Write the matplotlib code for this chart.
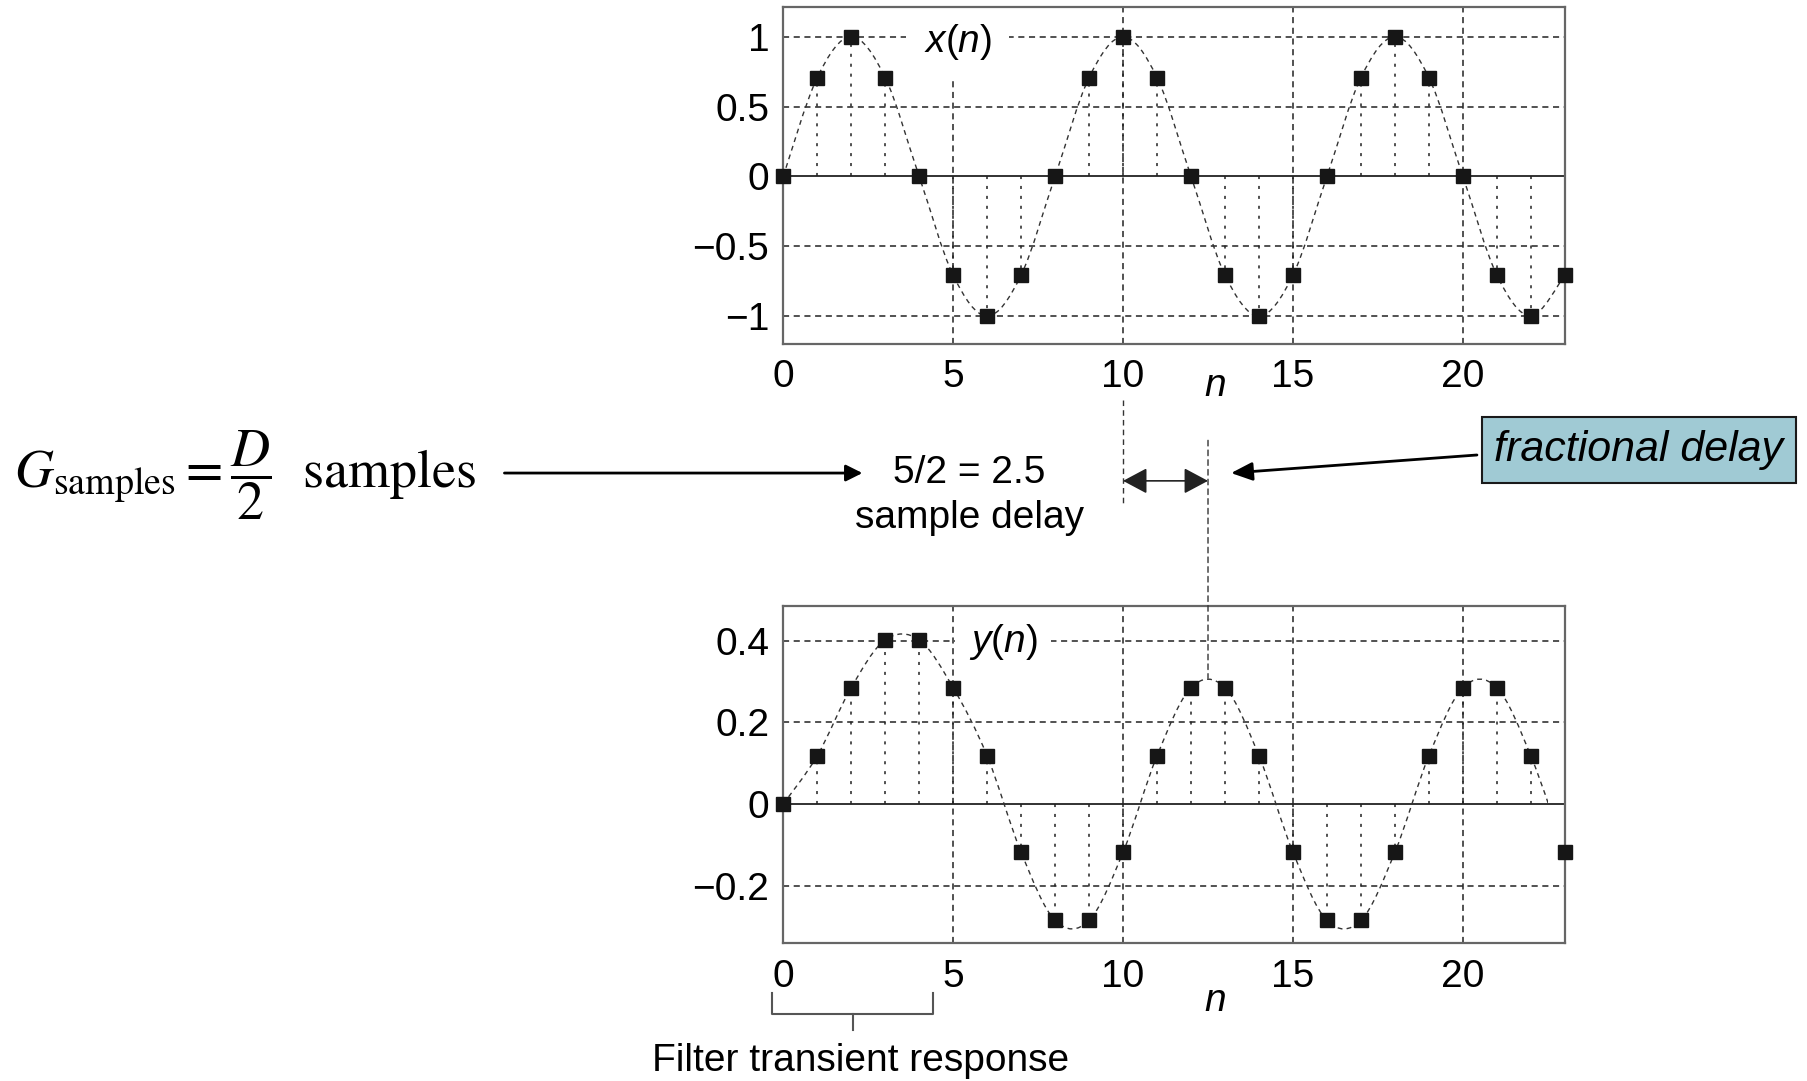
import numpy as np
import matplotlib
matplotlib.use('Agg')
import matplotlib.pyplot as plt
from matplotlib.path import Path
from matplotlib.patches import PathPatch, Rectangle, ConnectionPatch, FancyArrowPatch

plt.rcParams['font.family'] = ['Liberation Sans', 'DejaVu Sans']
plt.rcParams['mathtext.fontset'] = 'custom'
plt.rcParams['mathtext.rm'] = 'Liberation Sans'
plt.rcParams['mathtext.it'] = 'Liberation Sans:italic'

# samples n = 0..23
n = list(range(24))
# input x(n)
x_vals = [0, 0.707, 1, 0.707, 0, -0.707, -1, -0.707,
          0, 0.707, 1, 0.707, 0, -0.707, -1, -0.707,
          0, 0.707, 1, 0.707, 0, -0.707, -1, -0.707]
# filter output y(n)
y_vals = [0, 0.118, 0.285, 0.402, 0.402, 0.285, 0.118, -0.118,
          -0.285, -0.285, -0.118, 0.118, 0.285, 0.285, 0.118, -0.118,
          -0.285, -0.285, -0.118, 0.118, 0.285, 0.285, 0.118, -0.118]

x_yticks = [-1, -0.5, 0, 0.5, 1]
x_yticklabels = ['\u22121', '\u22120.5', '0', '0.5', '1']
y_yticks = [-0.2, 0, 0.2, 0.4]
y_yticklabels = ['\u22120.2', '0', '0.2', '0.4']
xticks = [0, 5, 10, 15, 20]

GROUP_DELAY = 2.5       # 5/2 samples
DELAY_REF = 10          # x(n) peak used as reference
Y_PEAK = 0.308          # steady-state peak of y(n)
Y_CURVE_END = 22.5

FS = 28
GRID_LS = (0, (4, 3))
STEM_LS = (0, (2, 4.5))


def smooth_path(xs, ys):
    # catmull-rom through the samples, as cubic bezier segments
    pts = np.column_stack([np.asarray(xs, float), np.asarray(ys, float)])
    k = len(pts)
    verts = [pts[0]]
    codes = [Path.MOVETO]
    for i in range(k - 1):
        p0 = pts[i - 1] if i > 0 else pts[i]
        p1, p2 = pts[i], pts[i + 1]
        p3 = pts[i + 2] if i + 2 < k else pts[i + 1]
        verts += [p1 + (p2 - p0) / 6.0, p2 - (p3 - p1) / 6.0, p2]
        codes += [Path.CURVE4] * 3
    return Path(verts, codes)


def style_axes(ax, yticks, yticklabels, ylim):
    ax.set_xlim(0, 23)
    ax.set_ylim(*ylim)
    ax.set_xticks(xticks)
    ax.set_xticklabels([str(t) for t in xticks])
    ax.set_yticks(yticks)
    ax.set_yticklabels(yticklabels)
    ax.tick_params(length=0, labelsize=FS)
    ax.tick_params(axis='x', pad=11)
    ax.tick_params(axis='y', pad=10)
    for s in ax.spines.values():
        s.set_color('#666666')
        s.set_linewidth(1.6)
    for t in xticks[1:]:
        ax.axvline(t, color='#222222', lw=1.1, ls=GRID_LS, zorder=1)
    for t in yticks:
        if t == 0:
            ax.axhline(0, color='#222222', lw=1.3, zorder=1)
        else:
            ax.axhline(t, color='#222222', lw=1.1, ls=GRID_LS, zorder=1)


def draw_signal(ax, vals, clip_end=None):
    ax.vlines(n, 0, vals, colors='#222222', lw=1.1, linestyles=STEM_LS, zorder=2)
    curve = PathPatch(smooth_path(n, vals), fill=False, edgecolor='#333333',
                      lw=1.0, ls=(0, (3.5, 3)), zorder=3)
    ax.add_patch(curve)
    if clip_end is not None:
        curve.set_clip_path(Rectangle((0, -5), clip_end, 10, transform=ax.transData))
    ax.plot(n, vals, 's', color='#161616', ms=10, zorder=4, clip_on=False)


fig = plt.figure(figsize=(18.08, 10.81), dpi=100)
ax_x = fig.add_axes([0.4332, 0.6818, 0.4323, 0.3114])
ax_y = fig.add_axes([0.4332, 0.1274, 0.4323, 0.3120])

style_axes(ax_x, x_yticks, x_yticklabels, (-1.2, 1.21))
style_axes(ax_y, y_yticks, y_yticklabels, (-0.341, 0.485))

draw_signal(ax_x, x_vals)
draw_signal(ax_y, y_vals, clip_end=Y_CURVE_END)

ax_x.text(5.13, 0.96, r'$x$($n$)', fontsize=FS, ha='center', va='center',
          bbox=dict(boxstyle='square,pad=0.45', fc='white', ec='none'), zorder=2.5)
ax_y.text(6.47, 0.397, r'$y$($n$)', fontsize=FS, ha='center', va='center',
          bbox=dict(boxstyle='square,pad=0.35', fc='white', ec='none'), zorder=2.5)

# n labels
ax_x.text(12.7, -0.125, r'$n$', fontsize=FS, ha='center', va='center',
          transform=ax_x.get_xaxis_transform())
ax_y.text(12.7, -0.17, r'$n$', fontsize=FS, ha='center', va='center',
          transform=ax_y.get_xaxis_transform())

# delay markers
ax_x.plot([DELAY_REF, DELAY_REF], [-1.6, -2.35], color='#333333', lw=1.0,
          ls=GRID_LS, clip_on=False)
con = ConnectionPatch(xyA=(DELAY_REF + GROUP_DELAY, -1.89), coordsA=ax_x.transData,
                      xyB=(DELAY_REF + GROUP_DELAY, Y_PEAK), coordsB=ax_y.transData,
                      color='#333333', lw=1.0, ls=GRID_LS)
fig.add_artist(con)
ax_x.annotate('', xy=(DELAY_REF, -2.18), xytext=(DELAY_REF + GROUP_DELAY, -2.18),
              arrowprops=dict(arrowstyle='<|-|>,head_length=0.75,head_width=0.4',
                              color='#222222', lw=1.2, shrinkA=0, shrinkB=0,
                              mutation_scale=20),
              annotation_clip=False)

# left side equation and arrow
fig.text(0.008, 0.561, r'$G_{\mathrm{samples}} = \dfrac{D}{2}\ \ \mathrm{samples}$',
         fontsize=39, ha='left', va='center', math_fontfamily='stix')
fig.add_artist(FancyArrowPatch(
    (0.279, 0.5624), (0.477, 0.5624), transform=fig.transFigure,
    arrowstyle='-|>,head_length=0.5,head_width=0.25', color='black', lw=2.0,
    mutation_scale=20, shrinkA=0, shrinkB=0))
fig.text(0.536, 0.5624, '5/2 = 2.5', fontsize=FS, ha='center', va='center')
fig.text(0.536, 0.5208, 'sample delay', fontsize=FS, ha='center', va='center')

# fractional delay callout
fig.text(0.9065, 0.5837, 'fractional delay', fontsize=31, style='italic',
         ha='center', va='center',
         bbox=dict(boxstyle='square,pad=0.3', fc='#a0cad4', ec='#1a1a1a', lw=1.5))
fig.add_artist(FancyArrowPatch(
    (0.8169, 0.5791), (0.6809, 0.5624), transform=fig.transFigure,
    arrowstyle='-|>,head_length=0.65,head_width=0.28', color='black', lw=2.0,
    mutation_scale=20, shrinkA=0, shrinkB=0))

# transient bracket under y(n)
ax_y.plot([-0.34, -0.34, 4.42, 4.42], [-0.463, -0.515, -0.515, -0.463],
          color='#555555', lw=1.5, clip_on=False)
ax_y.plot([2.05, 2.05], [-0.515, -0.554], color='#555555', lw=1.5, clip_on=False)
fig.text(0.4757, 0.0185, 'Filter transient response', fontsize=FS,
         ha='center', va='center')

fig.savefig('out.png', dpi=100)
